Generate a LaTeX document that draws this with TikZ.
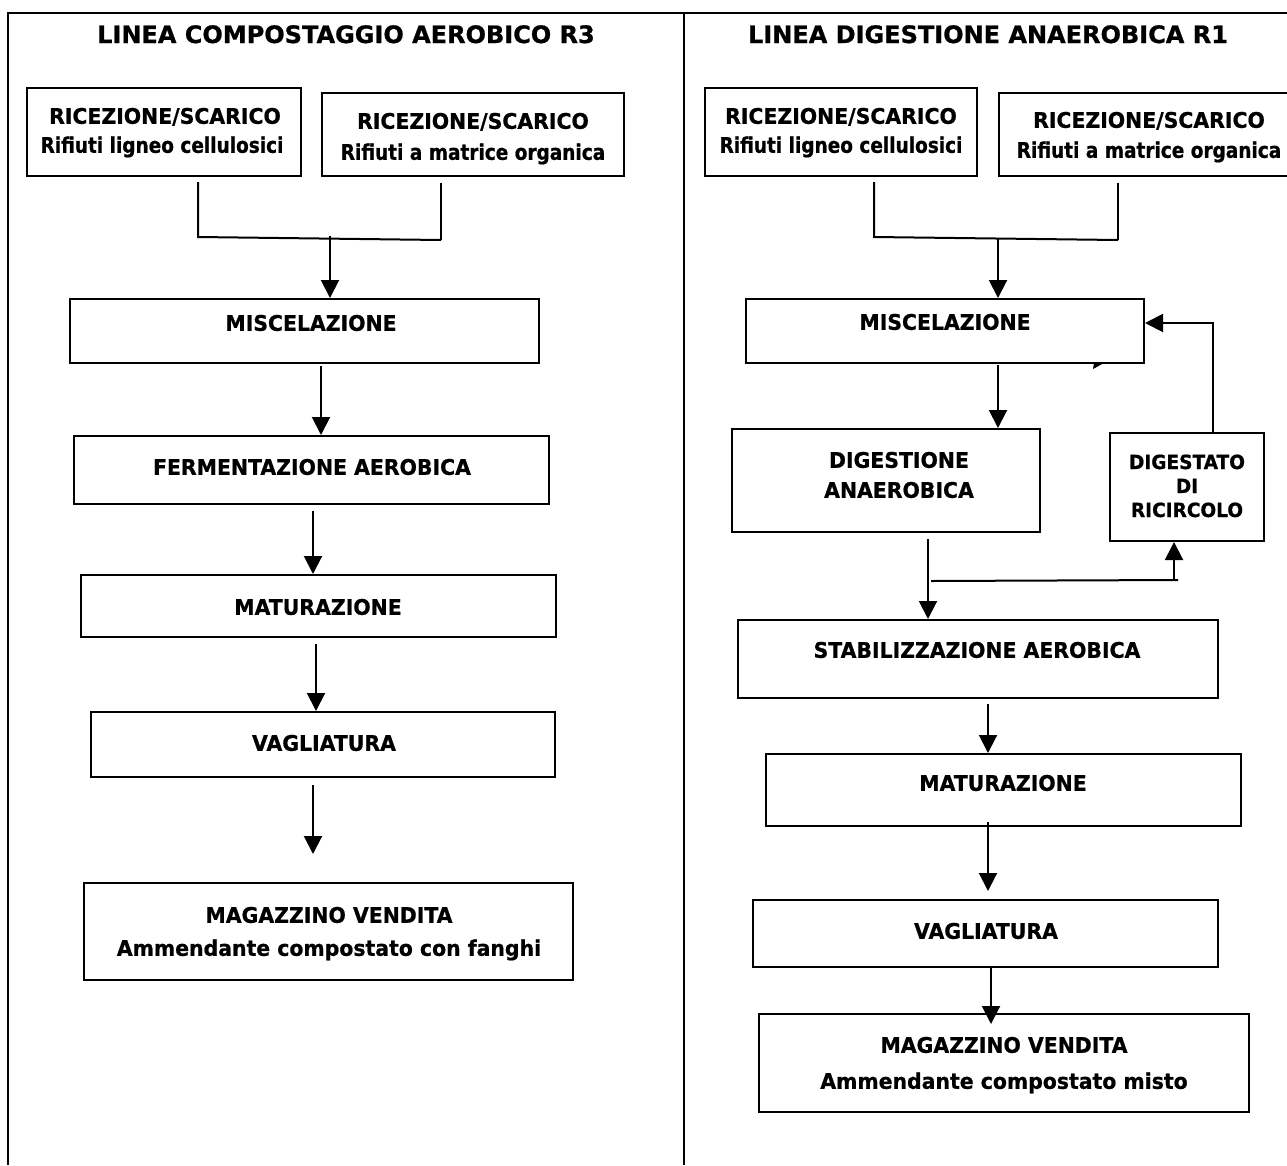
\documentclass[tikz,border=0pt]{standalone}
\usepackage{fontspec}
\setmainfont{DejaVu Sans}[FakeStretch=0.95,BoldFeatures={FakeBold=0.8}]
\newfontfamily\titlefont{DejaVu Sans}[BoldFeatures={FakeBold=0.8}]
\newfontfamily\narrowfont{DejaVu Sans}[FakeStretch=0.86,BoldFeatures={FakeBold=0.8}]
\usetikzlibrary{arrows.meta}
\begin{document}
\begin{tikzpicture}[x=1pt,y=-1pt,
  box/.style={draw, rectangle, line width=2pt, inner sep=0pt},
  txt/.style={anchor=base, inner sep=0pt, font=\fontsize{21.5}{25}\selectfont\bfseries},
  ntxt/.style={anchor=base, inner sep=0pt, font=\narrowfont\fontsize{21.5}{25}\selectfont\bfseries},
  stxt/.style={anchor=base, inner sep=0pt, font=\fontsize{19.5}{23}\selectfont\bfseries},
  ttl/.style={anchor=base, inner sep=0pt, font=\titlefont\fontsize{24}{28}\selectfont\bfseries},
  ln/.style={line width=2pt},
  arr/.style={line width=2pt, -{Triangle[length=18pt,width=18pt]}},
  frameline/.style={line width=2.5pt}]
\newcommand{\bx}[5]{\node[box, minimum width={#4-#2}, minimum height={#5-#3}] (#1) at ({(#2+#4)/2},{(#3+#5)/2}) {};}
\useasboundingbox (0,0) rectangle (1287,1165);
% frame
\draw[frameline] (8,1165) -- (8,13) -- (1287,13);
\draw[frameline] (684,13) -- (684,1165);
% titles
\node[ttl] (tl) at (346,43) {LINEA COMPOSTAGGIO AEROBICO R3};
\node[ttl] (tr) at (988,43) {LINEA DIGESTIONE ANAEROBICA R1};
% ---------- left line ----------
\bx{L1}{27}{88}{301}{176}
\bx{L2}{322}{93}{624}{176}
\bx{miscL}{70}{299}{539}{363}
\bx{fermL}{74}{436}{549}{504}
\bx{matL}{81}{575}{556}{637}
\bx{vaglL}{91}{712}{555}{777}
\bx{magL}{84}{883}{573}{980}
\node[txt] (L1a) at (165,123.8) {RICEZIONE/SCARICO};
\node[ntxt] (L1b) at (162,152.8) {Rifiuti ligneo cellulosici};
\node[txt] (L2a) at (473,128.8) {RICEZIONE/SCARICO};
\node[ntxt] (L2b) at (473,159.8) {Rifiuti a matrice organica};
\node[txt] (miscLt) at (311,330.8) {MISCELAZIONE};
\node[txt] (fermLt) at (312,474.8) {FERMENTAZIONE AEROBICA};
\node[txt] (matLt) at (318,614.8) {MATURAZIONE};
\node[txt] (vaglLt) at (324,750.8) {VAGLIATURA};
\node[txt] (magLa) at (329,922.8) {MAGAZZINO VENDITA};
\node[txt] (magLb) at (329,955.8) {Ammendante compostato con fanghi};
\coordinate (jl1) at (198,237);
\coordinate (jl2) at (441,240);
\coordinate (jlm) at (330,236);
\draw[ln, shorten <=5pt] (L1.south -| jl1) -- (jl1) -- (jl2);
\draw[ln, shorten <=6pt] (L2.south -| jl2) -- (jl2);
\draw[arr] (jlm) -- (jlm |- miscL.north);
\draw[arr, shorten <=2pt] ([xshift=16.5pt]miscL.south) -- ([xshift=16.5pt]miscL.south |- fermL.north);
\draw[arr, shorten <=6pt] ([xshift=1.5pt]fermL.south) -- ([xshift=1.5pt]fermL.south |- matL.north);
\draw[arr, shorten <=6pt] ([xshift=-2.5pt]matL.south) -- ([xshift=-2.5pt]matL.south |- vaglL.north);
\draw[arr, shorten <=7pt, shorten >=28pt] ([xshift=-10pt]vaglL.south) -- ([xshift=-10pt]vaglL.south |- magL.north);
% ---------- right line ----------
\bx{R1}{705}{88}{977}{176}
\bx{R2}{999}{93}{1290}{176}
\bx{miscR}{746}{299}{1144}{363}
\bx{dig}{732}{429}{1040}{532}
\bx{digst}{1110}{433}{1264}{541}
\bx{stab}{738}{620}{1218}{698}
\bx{matR}{766}{754}{1241}{826}
\bx{vaglR}{753}{900}{1218}{967}
\bx{magR}{759}{1014}{1249}{1112}
\node[txt] (R1a) at (841,123.8) {RICEZIONE/SCARICO};
\node[ntxt] (R1b) at (841,152.8) {Rifiuti ligneo cellulosici};
\node[txt] (R2a) at (1149,127.8) {RICEZIONE/SCARICO};
\node[ntxt] (R2b) at (1149,157.8) {Rifiuti a matrice organica};
\node[txt] (miscRt) at (945,329.8) {MISCELAZIONE};
\node[txt] (diga) at (899,467.8) {DIGESTIONE};
\node[txt] (digb) at (899,497.8) {ANAEROBICA};
\node[stxt] (dsa) at (1187,469) {DIGESTATO};
\node[stxt] (dsb) at (1187,493) {DI};
\node[stxt] (dsc) at (1187,517) {RICIRCOLO};
\node[txt] (stabt) at (977,657.8) {STABILIZZAZIONE AEROBICA};
\node[txt] (matRt) at (1003,790.8) {MATURAZIONE};
\node[txt] (vaglRt) at (986,938.8) {VAGLIATURA};
\node[txt] (magRa) at (1004,1052.8) {MAGAZZINO VENDITA};
\node[txt] (magRb) at (1004,1088.8) {Ammendante compostato misto};
\coordinate (jr1) at (874,237);
\coordinate (jr2) at (1118,240);
\coordinate (jrm) at (998,238);
\draw[ln, shorten <=5pt] (R1.south -| jr1) -- (jr1) -- (jr2);
\draw[ln, shorten <=6pt] (R2.south -| jr2) -- (jr2);
\draw[arr] (jrm) -- (jrm |- miscR.north);
\draw[arr, shorten <=1pt] ([xshift=53pt]miscR.south) -- ([xshift=53pt]miscR.south |- dig.north);
\draw[arr] ([xshift=26pt]digst.north) |- ([yshift=8pt]miscR.east);
\fill (1093,369) -- (1094,363) -- (1104,363) -- cycle;
\draw[arr, shorten <=6pt] ([xshift=42pt]dig.south) -- ([xshift=42pt]dig.south |- stab.north);
\coordinate (br1) at (931,581);
\coordinate (br2) at (1178,580);
\coordinate (br3) at (1174,580);
\draw[ln] (br1) -- (br2);
\draw[arr] (br3) -- (br3 |- digst.south);
\draw[arr, shorten <=5pt] ([xshift=10pt]stab.south) -- ([xshift=10pt]stab.south |- matR.north);
\draw[arr, shorten <=-5pt, shorten >=8pt] ([xshift=-15.5pt]matR.south) -- ([xshift=-15.5pt]matR.south |- vaglR.north);
\draw[arr, shorten <=-2pt, shorten >=-11pt] ([xshift=5.5pt]vaglR.south) -- ([xshift=5.5pt]vaglR.south |- magR.north);
\end{tikzpicture}
\end{document}
